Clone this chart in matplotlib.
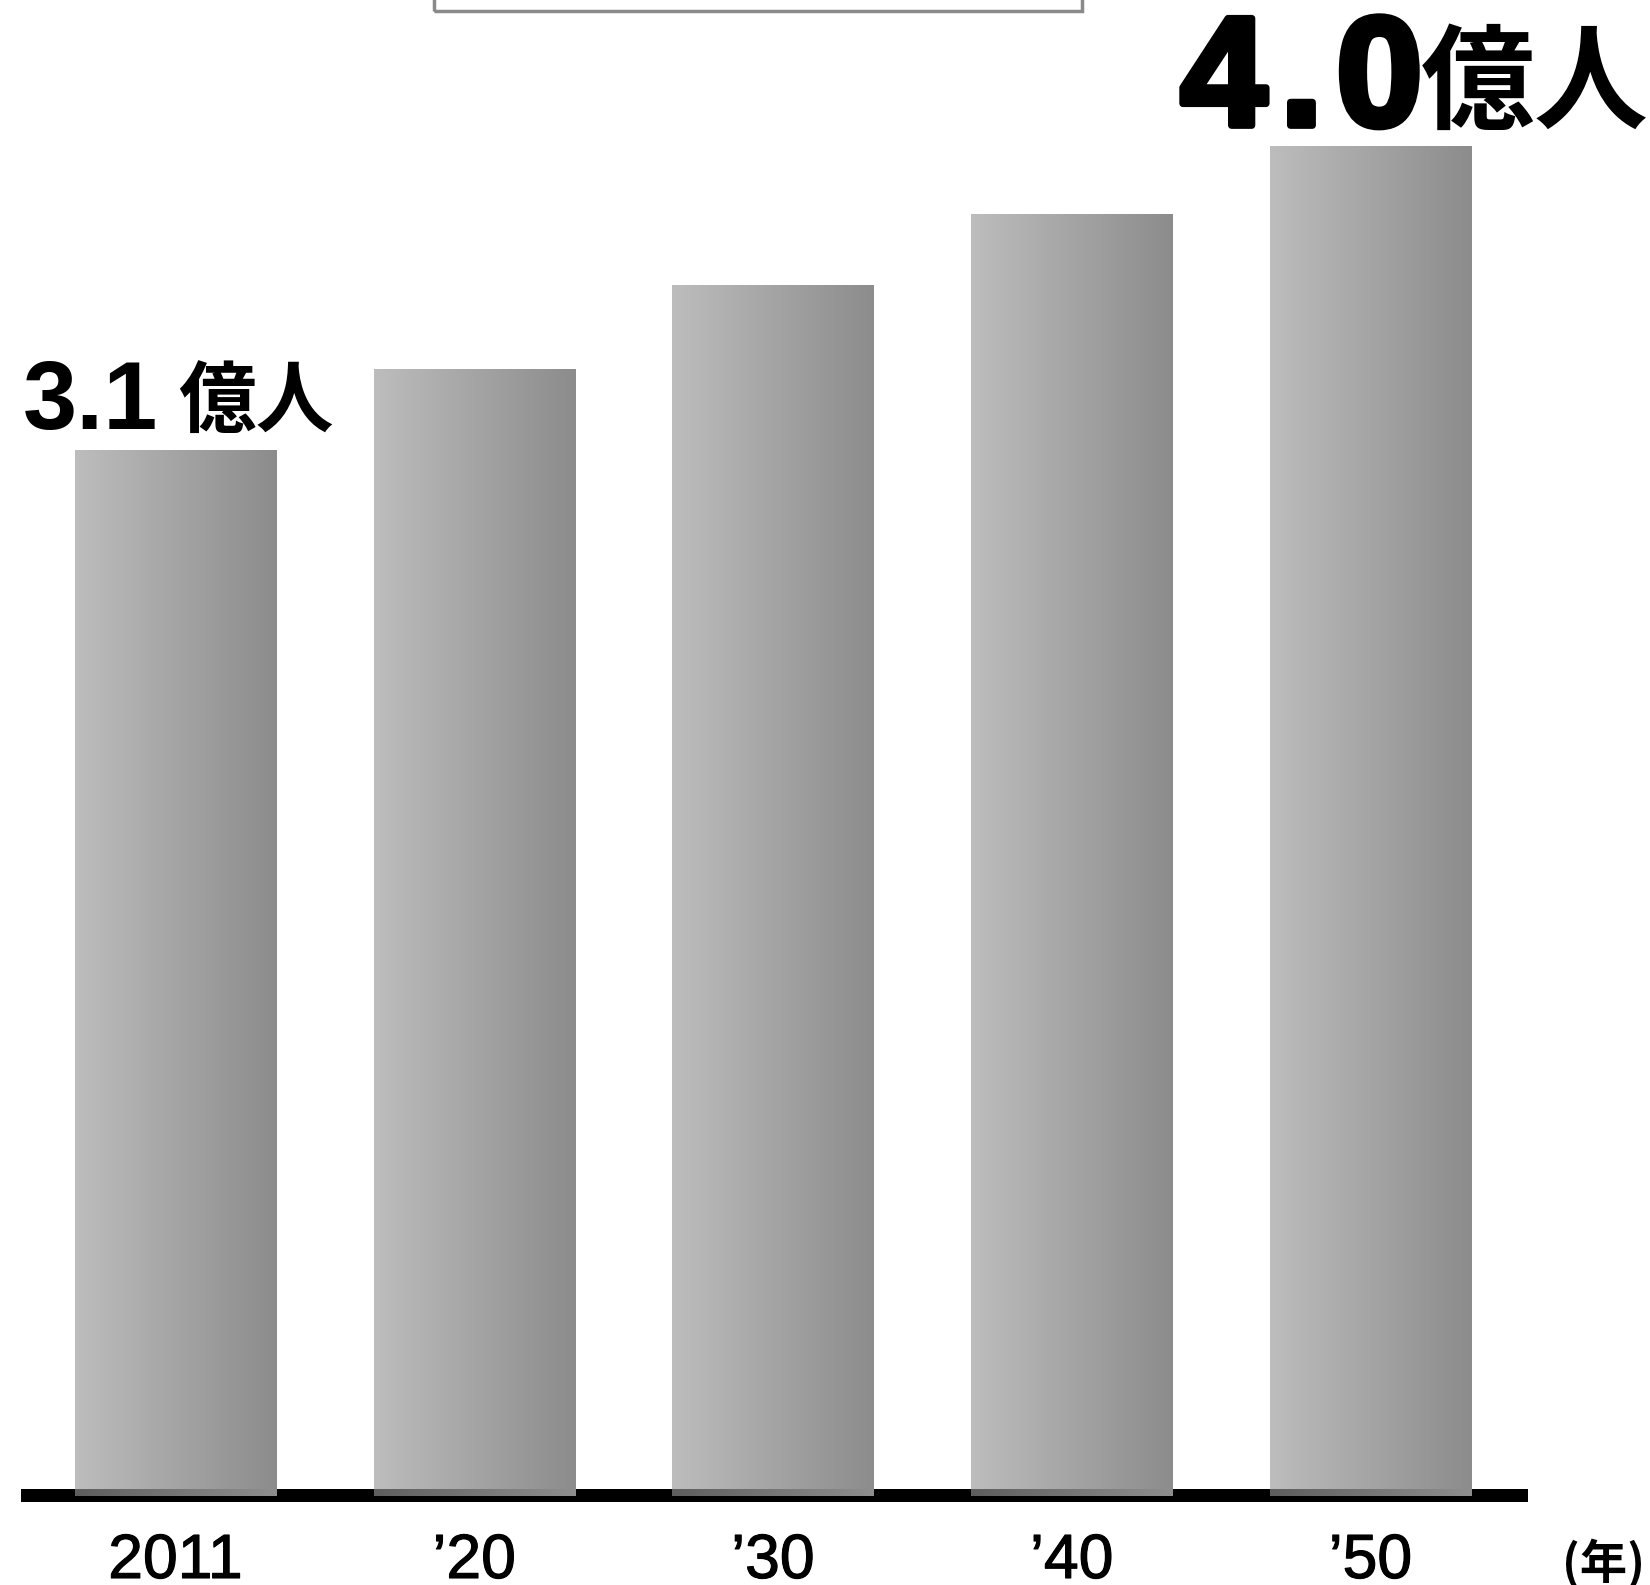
import numpy as np
import matplotlib
matplotlib.use("Agg")
import matplotlib.pyplot as plt
from matplotlib.colors import LinearSegmentedColormap
from matplotlib.patches import Rectangle
import matplotlib.patheffects as pe
import matplotlib.transforms as mtransforms

# ---- data ----
years = ["2011", "’20", "’30", "’40", "’50"]
population = [3.1, 3.34, 3.59, 3.80, 4.0]   # 億人
first_label = "3.1"
last_label = "4\u200a.\u200a0"
unit_label = "億人"
year_unit = "(年)"

W, H = 1650, 1585
DPI = 100
fig = plt.figure(figsize=(W / DPI, H / DPI), dpi=DPI)
fig.patch.set_facecolor("white")

# axes in pixel layout
px_per_unit = 337.4
ax_left, ax_right = 21, 1528
ax_top, ax_bottom = 0, 1505
zero_px = 1496
ax = fig.add_axes([ax_left / W, (H - ax_bottom) / H,
                   (ax_right - ax_left) / W, (ax_bottom - ax_top) / H])
ax.axis("off")

s = px_per_unit
# baseline black bar
ax.axhspan(-6 / s, 7 / s, color="black", zorder=1, lw=0)

x = np.arange(len(years))
bw = 0.673
bars = ax.bar(x, population, width=bw, color="none", lw=0, zorder=2)

main_cmap = LinearSegmentedColormap.from_list("g", ["#bdbdbd", "#8c8c8c"])
strip_cmap = LinearSegmentedColormap.from_list("s", ["#5e5e5e", "#8e8e8e"])
grad = np.linspace(0, 1, 256).reshape(1, -1)
for b in bars:
    x0, w, h = b.get_x(), b.get_width(), b.get_height()
    im = ax.imshow(grad, cmap=main_cmap, extent=(x0, x0 + w, 0, h),
                   aspect="auto", zorder=3, interpolation="bilinear")
    im.set_clip_path(b)
    ax.imshow(grad, cmap=strip_cmap, extent=(x0, x0 + w, 0, 7 / s),
              aspect="auto", zorder=4, interpolation="bilinear")

ax.set_xlim(-0.517, 4.527)
ax.set_ylim(-(ax_bottom - zero_px) / px_per_unit, (zero_px - ax_top) / px_per_unit)

# tick labels
trans = mtransforms.blended_transform_factory(ax.transData, fig.transFigure)
base_y = (H - 1578) / H
for xi, lab in zip(x, years):
    ax.text(xi, base_y, lab, transform=trans, ha="center", va="baseline",
            fontsize=45, family=["Liberation Sans", "DejaVu Sans"], color="black",
            path_effects=[pe.withStroke(linewidth=0.8, foreground="black")])
fig.text(1604 / W, base_y, year_unit, ha="center", va="baseline",
         fontsize=34, family=["Noto Sans CJK JP", "DejaVu Sans"], fontweight="bold")

# value labels
def value_label(i, num, num_size, cjk_size, num_right, cjk_left, cjk_dy, stroke):
    top = population[i]
    effects = [pe.withStroke(linewidth=stroke, foreground="black")] if stroke else None
    ax.annotate(num, xy=(i, top), xytext=(num_right, 21), textcoords="offset pixels",
                ha="right", va="baseline", fontsize=num_size,
                family=["Liberation Sans", "DejaVu Sans"], fontweight="bold",
                color="black", path_effects=effects)
    ax.annotate(unit_label, xy=(i, top), xytext=(cjk_left, 21 + cjk_dy),
                textcoords="offset pixels",
                ha="left", va="baseline", fontsize=cjk_size,
                family=["Noto Sans CJK JP"], fontweight="bold", color="black")

value_label(0, first_label, 70, 56, -17, 3, 3, 0)
value_label(len(population) - 1, last_label, 112, 82, 52, 50, 6, 5)

# partially visible box at top
box = Rectangle((434 / W, (H - 11) / H), (1082 - 434) / W, 100 / H,
                transform=fig.transFigure, fill=False, edgecolor="#8a8a8a",
                lw=2.5, zorder=5)
fig.patches.append(box)

fig.savefig("out.png", dpi=DPI, facecolor="white")
